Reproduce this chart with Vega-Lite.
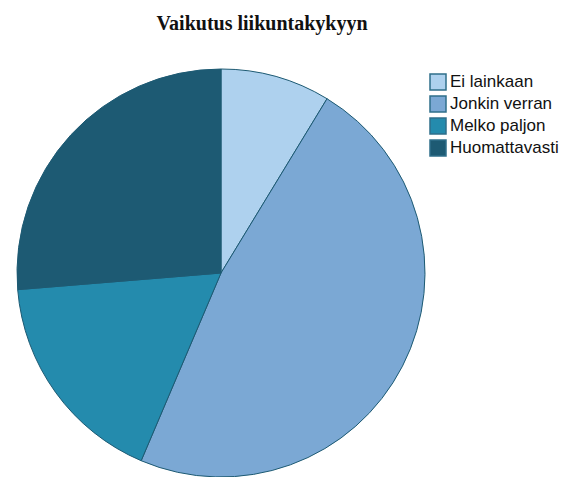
{
  "$schema": "https://vega.github.io/schema/vega-lite/v6.json",
  "autosize": "none",
  "width": 442,
  "height": 446,
  "padding": {"top": 50, "left": 0, "right": 135, "bottom": 0},
  "background": "white",
  "title": {
    "text": "Vaikutus liikuntakykyyn",
    "font": "Liberation Serif",
    "fontSize": 20,
    "fontWeight": "bold",
    "color": "#111111",
    "anchor": "middle",
    "dx": 41,
    "offset": 16
  },
  "data": {
    "values": [
      {"vastaus": "Ei lainkaan", "osuus": 8.7, "jarjestys": 1},
      {"vastaus": "Jonkin verran", "osuus": 47.7, "jarjestys": 2},
      {"vastaus": "Melko paljon", "osuus": 17.3, "jarjestys": 3},
      {"vastaus": "Huomattavasti", "osuus": 26.3, "jarjestys": 4}
    ]
  },
  "mark": {"type": "arc", "radius": 204, "stroke": "#1d5a73", "strokeWidth": 1},
  "encoding": {
    "theta": {"field": "osuus", "type": "quantitative", "stack": true},
    "order": {"field": "jarjestys", "type": "quantitative"},
    "color": {
      "field": "vastaus",
      "type": "nominal",
      "sort": ["Ei lainkaan", "Jonkin verran", "Melko paljon", "Huomattavasti"],
      "scale": {
        "domain": ["Ei lainkaan", "Jonkin verran", "Melko paljon", "Huomattavasti"],
        "range": ["#aed1ee", "#7ba8d4", "#248bad", "#1d5a73"]
      },
      "legend": {
        "title": null,
        "orient": "none",
        "legendX": 429,
        "legendY": 23,
        "symbolType": "square",
        "symbolSize": 256,
        "symbolStrokeColor": "#2f6f8a",
        "symbolStrokeWidth": 1.5,
        "labelFont": "Liberation Sans",
        "labelFontSize": 17,
        "labelColor": "#111111",
        "labelOffset": 3,
        "rowPadding": 0
      }
    }
  },
  "config": {"view": {"stroke": null}}
}
